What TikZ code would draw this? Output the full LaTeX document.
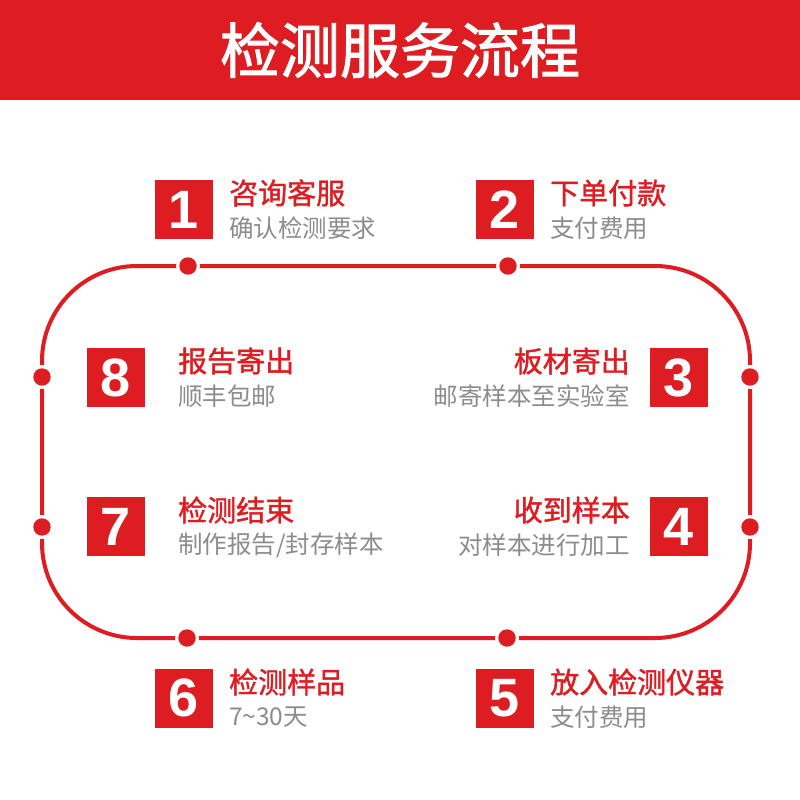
\documentclass[tikz,border=0pt]{standalone}
\usepackage{fontspec}
\setmainfont{Noto Sans CJK SC}
\newfontfamily\cjk{Noto Sans CJK SC}
\newfontfamily\cjkmed[FakeBold=1.3]{Noto Sans CJK SC}
\newfontfamily\cjkhead[FakeBold=1.6]{Noto Sans CJK SC}
\newfontfamily\numf{Liberation Sans}
\definecolor{myred}{RGB}{221,29,33}
\definecolor{mygray}{RGB}{140,140,140}
\begin{document}
\begin{tikzpicture}[x=1pt,y=-1pt,
  numbox/.style={fill=myred,text=white,minimum width=58pt,minimum height=59pt,inner sep=0pt,font=\numf\bfseries\fontsize{54}{54}\selectfont},
  ttl/.style={text=myred,inner sep=0pt,font=\cjkmed\fontsize{29}{29}\selectfont},
  sub/.style={text=mygray,inner sep=0pt,font=\cjk\fontsize{24.5}{24.5}\selectfont},
  loopline/.style={draw=myred,line width=4pt,rounded corners=95pt},
  halo/.style={fill=white},
  reddot/.style={fill=myred}]
\useasboundingbox (0,0) rectangle (800,800);
\fill[white] (0,0) rectangle (800,800);
% header
\fill[myred] (0,0) rectangle (800,100);
\node[text=white,inner sep=0pt,font=\cjkhead\fontsize{60}{60}\selectfont] (head) at (400,50) {检测服务流程};
% loop
\draw[loopline] (42,266) rectangle (750,638);
\foreach \n/\px/\py in {d1/188/266,d2/508/266,d3/750/377,d4/750/527,d5/507/638,d6/187/638,d7/42/527,d8/42/377}{
  \coordinate (\n) at (\px,\py);
  \fill[halo] (\n) circle (12pt);
  \fill[reddot] (\n) circle (8.7pt);
}
% boxes
\node[numbox] (b1) at (184,209.5) {1};
\node[numbox] (b2) at (504.5,209.5) {2};
\node[numbox] (b3) at (679,377.5) {3};
\node[numbox] (b4) at (679,526.5) {4};
\node[numbox] (b5) at (505,698) {5};
\node[numbox] (b6) at (184,698) {6};
\node[numbox] (b7) at (116,526.5) {7};
\node[numbox] (b8) at (116,377.5) {8};
% texts
\node[ttl,anchor=west] (t1) at (229,193) {咨询客服};
\node[sub,anchor=west] (s1) at (229,228) {确认检测要求};
\node[ttl,anchor=west] (t2) at (550,193) {下单付款};
\node[sub,anchor=west] (s2) at (550,228) {支付费用};
\node[ttl,anchor=east] (t3) at (630,361) {板材寄出};
\node[sub,anchor=east] (s3) at (630,396) {邮寄样本至实验室};
\node[ttl,anchor=east] (t4) at (630,510) {收到样本};
\node[sub,anchor=east] (s4) at (630,545) {对样本进行加工};
\node[ttl,anchor=west] (t5) at (550,682) {放入检测仪器};
\node[sub,anchor=west] (s5) at (550,717) {支付费用};
\node[ttl,anchor=west] (t6) at (229,682) {检测样品};
\node[sub,anchor=west] (s6) at (229,717) {7\textasciitilde30天};
\node[ttl,anchor=west] (t7) at (178,510) {检测结束};
\node[sub,anchor=west] (s7) at (178,545) {制作报告/封存样本};
\node[ttl,anchor=west] (t8) at (178,361) {报告寄出};
\node[sub,anchor=west] (s8) at (178,396) {顺丰包邮};
\end{tikzpicture}
\end{document}
